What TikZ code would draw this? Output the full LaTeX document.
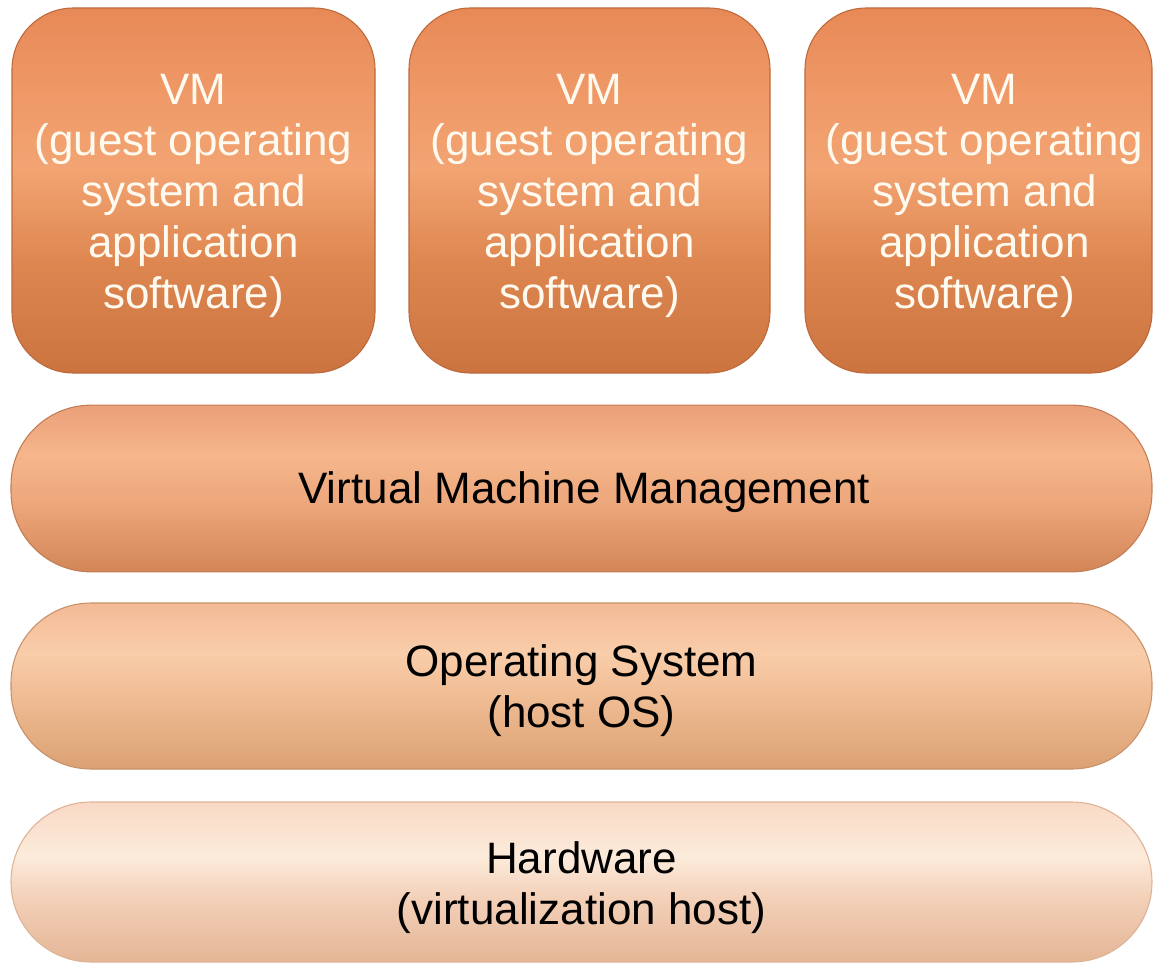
\documentclass[tikz,border=0pt]{standalone}
\usepackage{fontspec}
\setmainfont{Liberation Sans}

\definecolor{vmA}{RGB}{204,116,64}
\definecolor{vmB}{RGB}{222,134,80}
\definecolor{vmC}{RGB}{242,164,114}
\definecolor{vmD}{RGB}{238,152,102}
\definecolor{vmE}{RGB}{231,137,87}
\definecolor{vmEdge}{RGB}{190,105,60}

\definecolor{mgA}{RGB}{211,134,88}
\definecolor{mgB}{RGB}{236,166,122}
\definecolor{mgC}{RGB}{246,182,140}
\definecolor{mgD}{RGB}{234,160,120}
\definecolor{mgEdge}{RGB}{195,125,85}

\definecolor{osA}{RGB}{219,161,116}
\definecolor{osB}{RGB}{238,186,145}
\definecolor{osC}{RGB}{249,205,170}
\definecolor{osD}{RGB}{243,186,150}
\definecolor{osEdge}{RGB}{200,145,105}

\definecolor{hwA}{RGB}{228,182,150}
\definecolor{hwB}{RGB}{243,208,184}
\definecolor{hwC}{RGB}{252,235,219}
\definecolor{hwD}{RGB}{249,217,197}
\definecolor{hwEdge}{RGB}{222,178,150}

\definecolor{vmtext}{RGB}{255,250,240}

% vertical shadings: the path spans 25bp (bottom) to 75bp (top)
\pgfdeclareverticalshading{vmshade}{100bp}{%
  color(0bp)=(vmA); color(25bp)=(vmA); color(40bp)=(vmB);
  color(53bp)=(vmC); color(64bp)=(vmD); color(75bp)=(vmE); color(100bp)=(vmE)}
\pgfdeclareverticalshading{mgmtshade}{100bp}{%
  color(0bp)=(mgA); color(25bp)=(mgA); color(45bp)=(mgB);
  color(60bp)=(mgC); color(75bp)=(mgD); color(100bp)=(mgD)}
\pgfdeclareverticalshading{osshade}{100bp}{%
  color(0bp)=(osA); color(25bp)=(osA); color(45bp)=(osB);
  color(60bp)=(osC); color(75bp)=(osD); color(100bp)=(osD)}
\pgfdeclareverticalshading{hwshade}{100bp}{%
  color(0bp)=(hwA); color(25bp)=(hwA); color(45bp)=(hwB);
  color(58bp)=(hwC); color(75bp)=(hwD); color(100bp)=(hwD)}

\begin{document}
\begin{tikzpicture}[x=0.75pt,y=-0.75pt,
  label font/.style={font=\fontsize{33pt}{38.25pt}\selectfont, align=center,
    inner sep=0pt},
  vmtxt/.style={label font, text=vmtext},
  layertxt/.style={label font, text=black},
  vmbox/.style={shading=vmshade, draw=vmEdge,
    line width=0.8pt, rounded corners=46pt, inner sep=0pt,
    minimum height=273.75pt},
  layer/.style={line width=0.8pt, inner sep=0pt,
    minimum width=855.75pt, rounded corners=60pt},
  mgmtbar/.style={layer, shading=mgmtshade, draw=mgEdge, minimum height=125pt},
  osbar/.style={layer, shading=osshade, draw=osEdge, minimum height=124.5pt},
  hwbar/.style={layer, shading=hwshade, draw=hwEdge, minimum height=120pt}]

\useasboundingbox (0,0) rectangle (1153,964);

% guest machines
\node[vmbox, minimum width=272.25pt] (vm1) at (193.5,190.5) {};
\node[vmbox, minimum width=270.75pt] (vm2) at (589.5,190.5) {};
\node[vmbox, minimum width=260.25pt] (vm3) at (978.5,190.5) {};

\node[vmtxt] (vm1t) at ([yshift=-3.75pt]vm1.center)
  {VM\\(guest operating\\system and\\application\\software)};
\node[vmtxt] (vm2t) at ([yshift=-3.75pt]vm2.center)
  {VM\\(guest operating\\system and\\application\\software)};
\node[vmtxt] (vm3t) at ([xshift=4.5pt,yshift=-3.75pt]vm3.center)
  {VM\\(guest operating\\system and\\application\\software)};

% layered stack below the guests
\node[mgmtbar] (mgmt) at (581.5,488.5) {};
\node[osbar] (hostos) at (581.5,686) {};
\node[hwbar] (hw) at (581.5,882) {};

\node[layertxt] (mgmtt) at ([xshift=2pt,yshift=-3pt]mgmt.center)
  {Virtual Machine Management};
\node[layertxt] (hostost) at ([yshift=-3.75pt]hostos.center)
  {Operating System\\(host OS)};
\node[layertxt] (hwt) at ([yshift=-4.5pt]hw.center)
  {Hardware\\(virtualization host)};

\end{tikzpicture}
\end{document}
